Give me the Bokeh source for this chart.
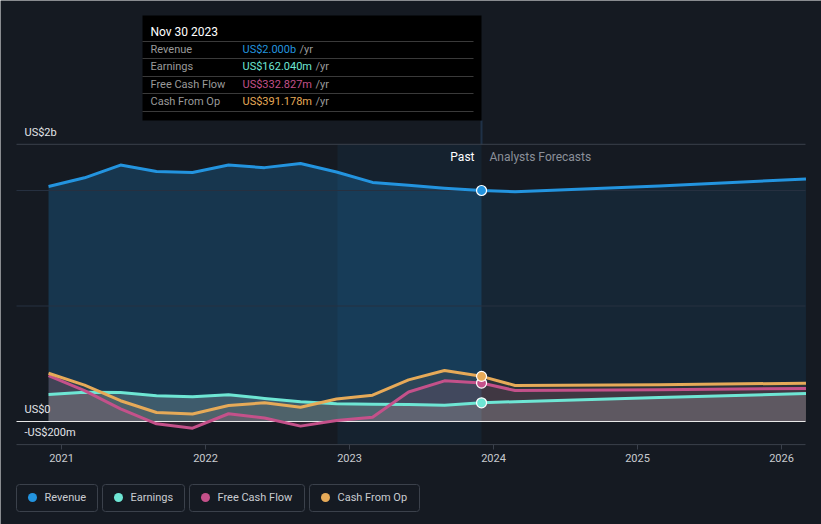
from bokeh.plotting import figure
from bokeh.embed import file_html
from bokeh.resources import INLINE
from bokeh.core.properties import value

# ---------------- data ----------------
past_t = [2020.91, 2021.16, 2021.41, 2021.66, 2021.91, 2022.16, 2022.41,
          2022.66, 2022.91, 2023.16, 2023.41, 2023.66, 2023.917]
fc_t = [2023.917, 2024.15, 2025.15, 2026.17]

revenue_past = [2035, 2110, 2220, 2165, 2156, 2220, 2198, 2234, 2160, 2070, 2045, 2020, 2000]
revenue_fc = [2000, 1990, 2040, 2100]
earnings_past = [234, 254, 252, 222, 215, 231, 200, 170, 153, 150, 147, 140, 162]
earnings_fc = [162, 172, 207, 242]
fcf_past = [398, 268, 110, -20, -58, 67, 30, -40, 8, 37, 255, 352, 333]
fcf_fc = [333, 268, 275, 286]
cfo_past = [418, 315, 180, 78, 65, 139, 162, 124, 195, 228, 360, 442, 391]
cfo_fc = [391, 312, 318, 332]

series_names = ["Revenue", "Earnings", "Free Cash Flow", "Cash From Op"]
series_colors = ["#2394df", "#6ee6d4", "#c4518a", "#e6aa58"]
tooltip_date = "Nov 30 2023"
tooltip_values = ["US$2.000b", "US$162.040m", "US$332.827m", "US$391.178m"]

x_ticks = [2021, 2022, 2023, 2024, 2025, 2026]
x_tick_labels = ["2021", "2022", "2023", "2024", "2025", "2026"]
y_label_vals = [2400, 0, -200]
y_labels = ["US$2b", "US$0", "-US$200m"]
grid_vals = [1000, 2000]

BG = "#151a22"
FONT = value("Roboto")


# page-pixel -> data conversions (layout helpers)
def X(px):
    return 2021 + (px - 61) / 144.0


def Y(py):
    return (421 - py) / 0.1155


p = figure(width=821, height=524, x_range=(X(0), X(821)), y_range=(Y(524), Y(0)),
           min_border=0, toolbar_location=None, output_backend="svg",
           x_axis_location=None, y_axis_location=None,
           background_fill_color=BG, border_fill_color=BG, outline_line_color=None)
p.xgrid.visible = False
p.ygrid.visible = False

# revenue fills
p.varea(x=past_t, y1=[0] * len(past_t), y2=revenue_past, fill_color="#2394df", fill_alpha=0.24)
p.varea(x=fc_t, y1=[0] * len(fc_t), y2=revenue_fc, fill_color="#2394df", fill_alpha=0.10)

# highlight column (last year of past)
p.quad(left=X(337), right=X(481), bottom=Y(444), top=Y(144), fill_color="#2394df",
       fill_alpha=0.07, line_color=None)
p.segment(x0=X(481), x1=X(481), y0=Y(120), y1=Y(144), line_color="#1f3147", line_width=2)

# grid / frame lines
p.segment(x0=[X(16)] * 2, x1=[X(805)] * 2, y0=grid_vals, y1=grid_vals,
          line_color="#263040", line_width=1)
p.segment(x0=[X(16)] * 2, x1=[X(805)] * 2, y0=[2400, -200], y1=[2400, -200],
          line_color="#3a404b", line_width=1)

# lower fills
all_t = past_t + fc_t[1:]
earn_all = earnings_past + earnings_fc[1:]
fcf_all = fcf_past + fcf_fc[1:]
cfo_all = cfo_past + cfo_fc[1:]
zeros = [0] * len(all_t)
p.varea(x=all_t, y1=zeros, y2=earn_all, fill_color="#8a8e96", fill_alpha=0.30)
p.varea(x=all_t, y1=zeros, y2=earn_all, fill_color="#6ee6d4", fill_alpha=0.08)
p.varea(x=all_t, y1=zeros, y2=fcf_all, fill_color="#c4518a", fill_alpha=0.14)
p.varea(x=all_t, y1=zeros, y2=cfo_all, fill_color="#e6aa58", fill_alpha=0.10)

# zero line
p.segment(x0=X(16), x1=X(805), y0=0, y1=0, line_color="#e8e8e8", line_width=1.2)

# lines
for (vp, vf), c in zip(
        [(revenue_past, revenue_fc), (earnings_past, earnings_fc),
         (fcf_past, fcf_fc), (cfo_past, cfo_fc)],
        series_colors):
    p.line(past_t + fc_t[1:], vp + vf[1:], line_color=c, line_width=3, line_join="round")

# markers at tooltip date
p.scatter(x=[past_t[-1]] * 4,
          y=[revenue_past[-1], earnings_past[-1], fcf_past[-1], cfo_past[-1]],
          size=10, fill_color=series_colors, line_color="#ffffff", line_width=1.2)

# x ticks
p.segment(x0=x_ticks, x1=x_ticks, y0=[-200] * 6, y1=[Y(449)] * 6, line_color="#3a404b")
p.text(x=x_ticks, y=[Y(457)] * 6, text=x_tick_labels, text_font=FONT,
       text_font_size="11px", text_color="#c8cbd0", text_align="center",
       text_baseline="middle")

# y labels
p.text(x=[X(24)] * 3, y=y_label_vals, text=y_labels, y_offset=-12, text_font=FONT,
       text_font_size="11px", text_color="#e2e4e8", text_align="left",
       text_baseline="middle")

# Past / forecast labels
p.text(x=[X(474)], y=[Y(156)], text=["Past"], text_font=FONT, text_font_size="12px",
       text_color="#ffffff", text_align="right", text_baseline="middle")
p.text(x=[X(489)], y=[Y(156)], text=["Analysts Forecasts"], text_font=FONT,
       text_font_size="12px", text_color="#8b9099", text_align="left",
       text_baseline="middle")

# tooltip
p.quad(left=X(142), right=X(481), top=Y(15), bottom=Y(120), fill_color="#000000",
       line_color=None)
sep_y = [Y(41), Y(58), Y(76), Y(93), Y(111)]
p.segment(x0=[X(142)] * 5, x1=[X(473)] * 5, y0=sep_y, y1=sep_y, line_color="#3a3a3a")
p.text(x=[X(150)], y=[Y(31)], text=[tooltip_date], text_font=FONT, text_font_size="12px",
       text_color="#ffffff", text_baseline="middle")
row_y = [Y(49), Y(66), Y(84), Y(101)]
p.text(x=[X(150)] * 4, y=row_y, text=series_names, text_font=FONT, text_font_size="11px",
       text_color="#9a9a9a", text_baseline="middle")
p.text(x=[X(242)] * 4, y=row_y, text=tooltip_values, text_font=FONT, text_font_size="11px",
       text_color=series_colors, text_baseline="middle")
p.text(x=[X(299), X(315), X(315), X(315)], y=row_y, text=["/yr"] * 4, text_font=FONT,
       text_font_size="11px", text_color="#9a9a9a", text_baseline="middle")

# legend
box_l = [16, 102, 189, 309]
box_r = [97, 184, 304, 419]
p.quad(left=[X(v) for v in box_l], right=[X(v) for v in box_r],
       top=[Y(484)] * 4, bottom=[Y(511)] * 4, fill_color=None,
       line_color="#3b414b", line_width=1, border_radius=3)
p.scatter(x=[X(v + 16) for v in box_l], y=[Y(497)] * 4, size=9,
          fill_color=series_colors, line_color=None)
p.text(x=[X(v + 28) for v in box_l], y=[Y(497)] * 4, text=series_names, text_font=FONT,
       text_font_size="11px", text_color="#c9ccd1", text_baseline="middle")

html = file_html(p, INLINE)
html = html.replace("<body>", '<body style="background-color:#151a22;">', 1)
open("out.html", "w").write(html)
